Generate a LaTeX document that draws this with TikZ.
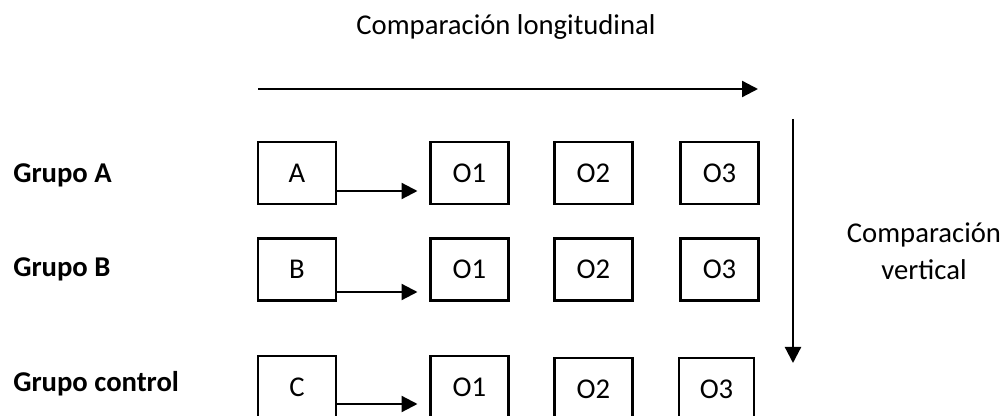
\documentclass[tikz,border=0pt]{standalone}
\usepackage{fontspec}
\setmainfont{Carlito}
\usetikzlibrary{arrows.meta,calc}
\begin{document}
\begin{tikzpicture}[x=0.75pt,y=-0.75pt,
  every node/.style={font=\fontsize{21.5}{27.75}\selectfont},
  obox/.style={draw,line width=1.7pt,minimum width=58.5pt,minimum height=46.5pt,inner sep=0pt,outer sep=0pt},
  lbl/.style={anchor=west,inner sep=0pt,font=\fontsize{21.5}{24}\selectfont\bfseries},
  arr/.style={line width=1.7pt,-{Triangle[length=12pt,width=12pt]}}]
\useasboundingbox (0,0) rectangle (1004,416);
% title
\node (tl) at (506,27) {Comparación longitudinal};
\coordinate (h1) at (258,89);
\coordinate (h2) at (758,89);
\draw[arr] (h1) -- (h2);
% vertical
\coordinate (v1) at (793,119);
\coordinate (v2) at (793,363);
\draw[arr] (v1) -- (v2);
\node[align=center] (vl) at (924,251) {Comparación\\vertical};
% labels
\node[lbl] (ga) at (13,175) {Grupo A};
\node[lbl] (gb) at (13,269) {Grupo B};
\node[lbl] (gc) at (13,384) {Grupo control};
% row A
\node[obox] (A) at (297,173) {A};
\node[obox] (A1) at (469.5,173) {O1};
\node[obox] (A2) at (593.5,173) {O2};
\node[obox] (A3) at (719.5,173) {O3};
% row B
\node[obox] (B) at (297,269.5) {B};
\node[obox] (B1) at (469.5,269.5) {O1};
\node[obox] (B2) at (593.5,269.5) {O2};
\node[obox] (B3) at (719.5,269.5) {O3};
% row C
\node[obox] (C) at (297,387) {C};
\node[obox] (C1) at (469.5,387) {O1};
\node[obox] (C2) at (593.5,389) {O2};
\node[obox,minimum width=56.25pt] (C3) at (716.5,389) {O3};
% arrows
\draw[arr] ($(A.east)+(0,18)$) -- ($(A1.west)+(-13,18)$);
\draw[arr] ($(B.east)+(0,22.5)$) -- ($(B1.west)+(-13,22.5)$);
\draw[arr] ($(C.east)+(0,17)$) -- ($(C1.west)+(-13,17)$);
\end{tikzpicture}
\end{document}
